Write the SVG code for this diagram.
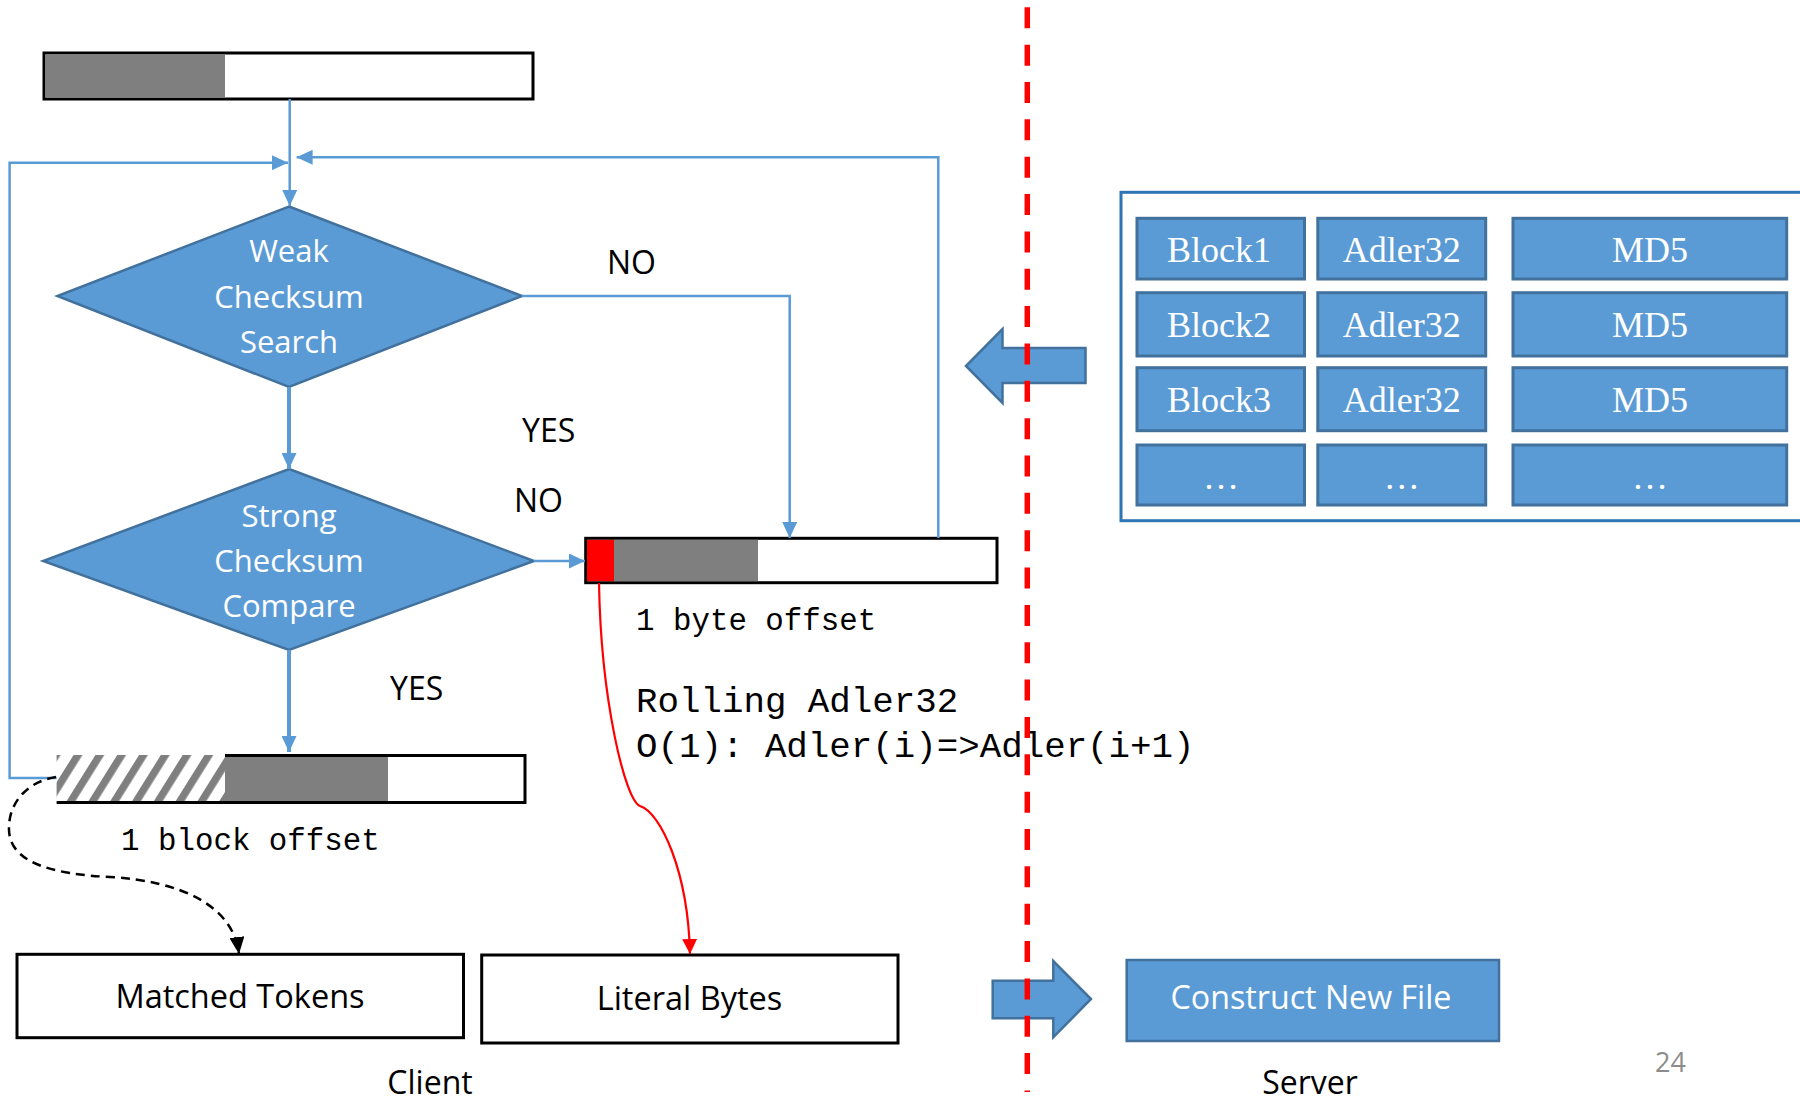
<svg xmlns="http://www.w3.org/2000/svg" width="1800" height="1100" viewBox="0 0 1800 1100">
  <style>
    .sans { font-family: "Open Sans", "Noto Sans", "Liberation Sans", sans-serif; }
    .serif { font-family: "Liberation Serif", "Times New Roman", serif; }
    .mono { font-family: "Liberation Mono", "Courier New", monospace; }
    .dtext { font-size: 31px; fill: #ffffff; text-anchor: middle; }
    .label { font-size: 32px; fill: #000000; }
    .boxtext { font-size: 32.5px; fill: #000000; text-anchor: middle; }
    .shape { fill: #5B9BD5; stroke: #41719C; stroke-width: 2.5; }
    .cell { fill: #5B9BD5; stroke: #41719C; stroke-width: 3; }
    .celltext { font-size: 36px; fill: #ffffff; text-anchor: middle; }
    .bar { fill: #ffffff; stroke: #000000; stroke-width: 3; }
    .flow { fill: none; stroke: #5B9BD5; stroke-width: 2.5; }
    .flow-thick { fill: none; stroke: #5B9BD5; stroke-width: 4; }
    .box { fill: #ffffff; stroke: #000000; stroke-width: 3; }
  </style>
  <defs>
    <marker id="arrow-blue" markerUnits="userSpaceOnUse" markerWidth="16" markerHeight="15" refX="16" refY="7.5" orient="auto">
      <path d="M0,0 L16,7.5 L0,15 Z" fill="#5B9BD5"/>
    </marker>
    <marker id="arrow-red" markerUnits="userSpaceOnUse" markerWidth="15" markerHeight="15" refX="15" refY="7.5" orient="auto">
      <path d="M0,0 L15,7.5 L0,15 Z" fill="#FF0000"/>
    </marker>
    <marker id="arrow-black" markerUnits="userSpaceOnUse" markerWidth="17" markerHeight="15" refX="17" refY="7.5" orient="auto">
      <path d="M0,0 L17,7.5 L0,15 Z" fill="#000000"/>
    </marker>
    <pattern id="hatch" patternUnits="userSpaceOnUse" width="18.5" height="18.5" patternTransform="rotate(32)">
      <rect width="18.5" height="18.5" fill="#ffffff"/>
      <rect width="7.5" height="18.5" fill="#7F7F7F"/>
    </pattern>
  </defs>

  <!-- input file bar -->
  <g id="file-bar">
    <rect class="bar" x="44" y="53" width="489" height="46"/>
    <rect x="45.5" y="54.5" width="179.5" height="43" fill="#7F7F7F"/>
  </g>

  <!-- weak checksum decision -->
  <g id="weak-checksum">
    <polygon class="shape" points="289,206.5 522,296 289,387 57.4,296"/>
    <text class="sans dtext" x="289" y="262">Weak</text>
    <text class="sans dtext" x="289" y="308">Checksum</text>
    <text class="sans dtext" x="289" y="353">Search</text>
  </g>

  <!-- strong checksum decision -->
  <g id="strong-checksum">
    <polygon class="shape" points="289,469 534,561 289,650 43.2,561"/>
    <text class="sans dtext" x="289" y="527">Strong</text>
    <text class="sans dtext" x="289" y="572">Checksum</text>
    <text class="sans dtext" x="289" y="617">Compare</text>
  </g>

  <!-- window advanced by one byte -->
  <g id="byte-bar">
    <rect class="bar" x="585.7" y="538.3" width="411.3" height="44.4"/>
    <rect x="587" y="539.8" width="27" height="41.4" fill="#FF0000"/>
    <rect x="614" y="539.8" width="144" height="41.4" fill="#7F7F7F"/>
    <text class="mono" x="636" y="630" font-size="30.8" fill="#000000">1 byte offset</text>
    <text class="mono" x="636" y="712" font-size="35.8" fill="#000000">Rolling Adler32</text>
    <text class="mono" x="636" y="757" font-size="35.8" fill="#000000">O(1): Adler(i)=&gt;Adler(i+1)</text>
  </g>

  <!-- window advanced by one block -->
  <g id="block-bar">
    <rect x="56.6" y="755" width="168.4" height="47" fill="url(#hatch)"/>
    <rect x="225" y="755" width="163" height="47" fill="#7F7F7F"/>
    <rect x="388" y="755" width="137" height="47" fill="#ffffff"/>
    <path d="M56.6,802.5 H525 V755.5 H225" fill="none" stroke="#000000" stroke-width="3"/>
    <text class="mono" x="121" y="850" font-size="30.8" fill="#000000">1 block offset</text>
  </g>

  <!-- outputs -->
  <g id="matched-tokens">
    <rect class="box" x="17" y="954.3" width="446.5" height="83.4"/>
    <text class="sans boxtext" x="240" y="1008">Matched Tokens</text>
  </g>
  <g id="literal-bytes">
    <rect class="box" x="481.7" y="955" width="416.3" height="88"/>
    <text class="sans boxtext" x="689.5" y="1010">Literal Bytes</text>
  </g>

  <!-- server side checksum table -->
  <g id="checksum-table">
    <rect x="1121" y="192.3" width="700" height="328.4" fill="none" stroke="#2E75B6" stroke-width="3"/>
    <rect class="cell" x="1137" y="218.3" width="167.5" height="60.7"/>
    <rect class="cell" x="1317.8" y="218.3" width="167.9" height="60.7"/>
    <rect class="cell" x="1513" y="218.3" width="273.7" height="60.7"/>
    <rect class="cell" x="1137" y="292.7" width="167.5" height="63.3"/>
    <rect class="cell" x="1317.8" y="292.7" width="167.9" height="63.3"/>
    <rect class="cell" x="1513" y="292.7" width="273.7" height="63.3"/>
    <rect class="cell" x="1137" y="367.7" width="167.5" height="63"/>
    <rect class="cell" x="1317.8" y="367.7" width="167.9" height="63"/>
    <rect class="cell" x="1513" y="367.7" width="273.7" height="63"/>
    <rect class="cell" x="1137" y="445" width="167.5" height="60"/>
    <rect class="cell" x="1317.8" y="445" width="167.9" height="60"/>
    <rect class="cell" x="1513" y="445" width="273.7" height="60"/>
    <text class="serif celltext" x="1219" y="262">Block1</text>
    <text class="serif celltext" x="1401.7" y="262">Adler32</text>
    <text class="serif celltext" x="1650" y="262">MD5</text>
    <text class="serif celltext" x="1219" y="337">Block2</text>
    <text class="serif celltext" x="1401.7" y="337">Adler32</text>
    <text class="serif celltext" x="1650" y="337">MD5</text>
    <text class="serif celltext" x="1219" y="412">Block3</text>
    <text class="serif celltext" x="1401.7" y="412">Adler32</text>
    <text class="serif celltext" x="1650" y="412">MD5</text>
    <text class="serif celltext" x="1221" y="489" font-size="42">…</text>
    <text class="serif celltext" x="1401.7" y="489" font-size="42">…</text>
    <text class="serif celltext" x="1650" y="489" font-size="42">…</text>
  </g>

  <!-- server result -->
  <g id="construct-new-file">
    <rect class="shape" x="1126.7" y="960" width="372.3" height="81"/>
    <text class="sans" x="1311" y="1009" font-size="32.2" fill="#ffffff" text-anchor="middle">Construct New File</text>
  </g>

  <!-- transfer arrows between sides -->
  <g id="to-client-arrow">
    <polygon class="shape" points="966,366 1002.5,329 1002.5,348 1085.5,348 1085.5,383 1002.5,383 1002.5,403"/>
  </g>
  <g id="to-server-arrow">
    <polygon class="shape" points="992.7,980.7 1053.3,980.7 1053.3,961 1091,999 1053.3,1037.3 1053.3,1018.3 992.7,1018.3"/>
  </g>

  <!-- connectors -->
  <g id="connectors">
    <line class="flow" x1="289.7" y1="99" x2="289.7" y2="206" marker-end="url(#arrow-blue)"/>
    <path class="flow" d="M56.6,778 H9.6 V162.7 H288" marker-end="url(#arrow-blue)"/>
    <path class="flow" d="M938.3,538 V157.3 H296.6" marker-end="url(#arrow-blue)"/>
    <path class="flow" d="M522,296 H789.7 V538" marker-end="url(#arrow-blue)"/>
    <path class="flow-thick" d="M289,387 V469" marker-end="url(#arrow-blue)"/>
    <path class="flow" d="M534,561 H585" marker-end="url(#arrow-blue)"/>
    <path class="flow-thick" d="M289,650 V752" marker-end="url(#arrow-blue)"/>
    <path d="M599,583 C601,700 625,800 640,806 C660,812 688,870 690,954" fill="none" stroke="#FF0000" stroke-width="2.2" marker-end="url(#arrow-red)"/>
    <path d="M56,777 C25,782 8,805 9,830 C10,862 50,874 110,877 C180,881 233,905 239,954" fill="none" stroke="#000000" stroke-width="2.5" stroke-dasharray="9 6" marker-end="url(#arrow-black)"/>
  </g>

  <!-- branch labels -->
  <g id="labels">
    <text class="sans label" x="607" y="274">NO</text>
    <text class="sans label" x="522" y="442">YES</text>
    <text class="sans label" x="514" y="512">NO</text>
    <text class="sans label" x="390" y="700">YES</text>
    <text class="sans" x="430" y="1094" font-size="32" fill="#000000" text-anchor="middle">Client</text>
    <text class="sans" x="1310" y="1094" font-size="32" fill="#000000" text-anchor="middle">Server</text>
    <text class="sans" x="1655" y="1072" font-size="27" fill="#8C8C8C">24</text>
  </g>

  <!-- client / server boundary -->
  <line id="boundary" x1="1027.3" y1="7.3" x2="1027.3" y2="1092" stroke="#FF0000" stroke-width="5.5" stroke-dasharray="21 16.35"/>
</svg>
